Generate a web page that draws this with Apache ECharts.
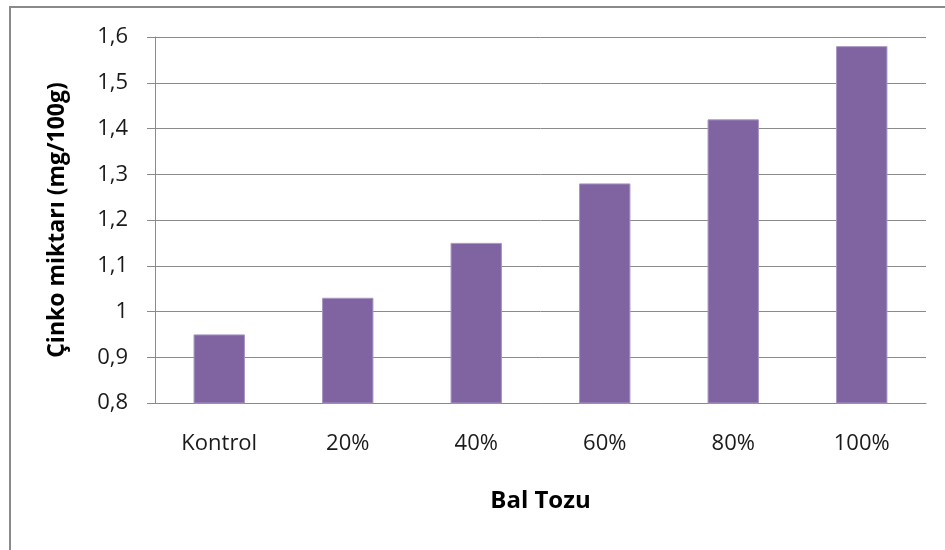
<!DOCTYPE html>
<html>
<head>
<meta charset="utf-8">
<script src="https://cdn.jsdelivr.net/npm/echarts@6/dist/echarts.min.js"></script>
<style>
  html, body { margin: 0; padding: 0; background: #fff; }
  #chart { width: 945px; height: 550px; }
</style>
</head>
<body>
<div id="chart"></div>
<script>
// Zinc content per honey-powder level
const categories = ['Kontrol', '20%', '40%', '60%', '80%', '100%'];
const zincValues = [0.95, 1.03, 1.15, 1.28, 1.42, 1.58];
const yMin = 0.8;
const yMax = 1.6;
const yStep = 0.1;
const xTitle = 'Bal Tozu';
const yTitle = 'Çinko miktarı (mg/100g)';

const FONT = '"Open Sans", "Noto Sans", sans-serif';
const GRID_GRAY = '#8a8a8a';

const chart = echarts.init(document.getElementById('chart'), null, { renderer: 'canvas' });

chart.setOption({
  backgroundColor: '#ffffff',
  animation: false,
  graphic: [{
    type: 'rect',
    shape: { x: 10, y: 7, width: 1000, height: 600 },
    style: { fill: 'none', stroke: GRID_GRAY, lineWidth: 2 },
    silent: true
  }],
  grid: { left: 155, right: 19, top: 37, bottom: 147, containLabel: false },
  xAxis: {
    type: 'category',
    data: categories,
    name: xTitle,
    nameLocation: 'middle',
    nameGap: 86,
    nameTextStyle: { fontFamily: FONT, fontSize: 24, fontWeight: 'bold', color: '#000' },
    axisLine: { show: true, lineStyle: { color: GRID_GRAY, width: 1 } },
    axisTick: { show: false },
    axisLabel: { fontFamily: FONT, fontSize: 22, color: '#1a1a1a', margin: 30 }
  },
  yAxis: {
    type: 'value',
    min: yMin,
    max: yMax,
    interval: yStep,
    name: yTitle,
    nameLocation: 'middle',
    nameRotate: 90,
    nameGap: 86,
    nameTextStyle: { fontFamily: FONT, fontSize: 23, fontWeight: 'bold', color: '#000' },
    axisLine: { show: true, lineStyle: { color: GRID_GRAY, width: 1 } },
    axisTick: { show: true, inside: false, length: 8, lineStyle: { color: GRID_GRAY } },
    splitLine: { show: true, lineStyle: { color: GRID_GRAY, width: 1 } },
    axisLabel: {
      fontFamily: FONT, fontSize: 22, color: '#1a1a1a', margin: 27,
      formatter: v => String(Math.round(v * 10) / 10).replace('.', ',')
    }
  },
  series: [{
    type: 'bar',
    data: zincValues,
    barWidth: '40%',
    itemStyle: { color: '#8064A2', borderColor: '#a996c4', borderWidth: 1 }
  }]
});
</script>
</body>
</html>
